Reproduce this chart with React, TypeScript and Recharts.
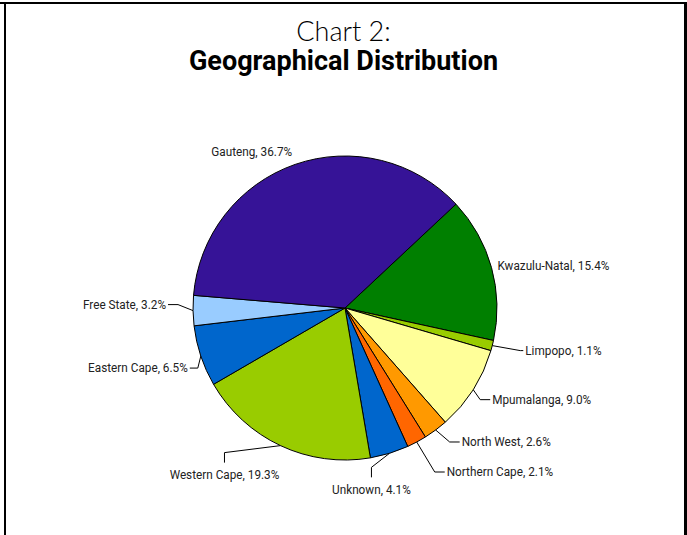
import { PieChart, Pie, Cell } from "recharts";

const regions = [
  "Kwazulu-Natal",
  "Limpopo",
  "Mpumalanga",
  "North West",
  "Northern Cape",
  "Unknown",
  "Western Cape",
  "Eastern Cape",
  "Free State",
  "Gauteng",
];
const shares = [15.4, 1.1, 9.0, 2.6, 2.1, 4.1, 19.3, 6.5, 3.2, 36.7];
const sliceColors = [
  "#007f00",
  "#99cc00",
  "#ffff99",
  "#ff9900",
  "#ff6600",
  "#0066cc",
  "#99cc00",
  "#0066cc",
  "#99ccff",
  "#361397",
];

const data = regions.map((name, i) => ({ name, value: shares[i] }));

// label placement relative to the slice's edge point (Excel-style leaders)
type LabelPos = { mode: "none" | "h" | "v"; ex: number; ey: number; stub: number; anchor: "start" | "middle" | "end" };
const labelLayout: Record<string, LabelPos> = {
  "Kwazulu-Natal": { mode: "none", ex: 6, ey: -2, stub: 0, anchor: "start" },
  Limpopo: { mode: "h", ex: 28, ey: 5, stub: 3, anchor: "start" },
  Mpumalanga: { mode: "h", ex: 7, ey: 10, stub: 10, anchor: "start" },
  "North West": { mode: "h", ex: 14, ey: 12, stub: 10, anchor: "start" },
  "Northern Cape": { mode: "h", ex: 18, ey: 30, stub: 10, anchor: "start" },
  Unknown: { mode: "v", ex: -18, ey: 14, stub: 10, anchor: "middle" },
  "Western Cape": { mode: "v", ex: -56, ey: 7, stub: 10, anchor: "middle" },
  "Eastern Cape": { mode: "h", ex: -3, ey: 12, stub: -8, anchor: "end" },
  "Free State": { mode: "h", ex: -15, ey: -6, stub: -10, anchor: "end" },
  Gauteng: { mode: "none", ex: -3, ey: -13, stub: 0, anchor: "end" },
};

const RADIAN = Math.PI / 180;
const labelFont = "Roboto, 'Liberation Sans', sans-serif";
const labelSize = 12.8;

// narrow-ish label text, squeezed a bit around its anchor point
function LabelText({ x, y, anchor, text }: { x: number; y: number; anchor: "start" | "middle" | "end"; text: string }) {
  return (
    <text
      transform={`translate(${x},${y}) scale(0.92,1)`}
      x={0}
      y={0}
      textAnchor={anchor}
      dominantBaseline="central"
      fontSize={labelSize}
      fontFamily={labelFont}
      fill="#222"
    >
      {text}
    </text>
  );
}

function renderLabel(props: any) {
  const { cx, cy, midAngle, outerRadius, name, value } = props;
  const px = cx + outerRadius * Math.cos(-midAngle * RADIAN);
  const py = cy + outerRadius * Math.sin(-midAngle * RADIAN);
  const lay = labelLayout[name];
  const text = `${name}, ${Number(value).toFixed(1)}%`;
  const ex = px + lay.ex;
  const ey = py + lay.ey;
  if (lay.mode === "none") {
    return <LabelText x={ex} y={ey} anchor={lay.anchor} text={text} />;
  }
  if (lay.mode === "v") {
    const sy = ey + lay.stub;
    return (
      <g>
        <polyline points={`${px},${py} ${ex},${ey} ${ex},${sy}`} fill="none" stroke="#000" strokeWidth={1} />
        <LabelText x={ex} y={sy + 12} anchor="middle" text={text} />
      </g>
    );
  }
  const sx = ex + lay.stub;
  const tx = sx + (lay.stub >= 0 ? 2 : -2);
  return (
    <g>
      <polyline points={`${px},${py} ${ex},${ey} ${sx},${ey}`} fill="none" stroke="#000" strokeWidth={1} />
      <LabelText x={tx} y={ey} anchor={lay.anchor} text={text} />
    </g>
  );
}

export default function App() {
  return (
    <div style={{ position: "absolute", left: 0, top: 0, width: 687, height: 535, background: "#fff", overflow: "hidden" }}>
      {/* frame */}
      <div style={{ position: "absolute", left: 0, top: 2, width: 687, height: 2, background: "#000" }} />
      <div style={{ position: "absolute", left: 4, top: 2, width: 2, height: 533, background: "#000" }} />
      <div style={{ position: "absolute", left: 684, top: 2, width: 3, height: 533, background: "#000" }} />

      <div
        style={{
          position: "absolute",
          left: 0,
          width: 687,
          top: 15,
          textAlign: "center",
          fontFamily: "Lato, 'Liberation Sans', sans-serif",
          fontWeight: 300,
          fontSize: 27,
          color: "#000",
          lineHeight: "32px",
        }}
      >
        Chart 2:
      </div>
      <div
        style={{
          position: "absolute",
          left: 0,
          width: 687,
          top: 45,
          textAlign: "center",
          fontFamily: "Roboto, 'Liberation Sans', sans-serif",
          fontWeight: 700,
          fontSize: 27,
          color: "#000",
          lineHeight: "32px",
        }}
      >
        Geographical Distribution
      </div>

      <div style={{ position: "absolute", left: 0, top: 0 }}>
        <PieChart width={687} height={535} margin={{ top: 0, right: 0, bottom: 0, left: 0 }}>
          <Pie
            data={data}
            dataKey="value"
            nameKey="name"
            cx={345}
            cy={308}
            outerRadius={152}
            startAngle={43.1}
            endAngle={43.1 - 360}
            stroke="#000"
            strokeWidth={1}
            label={renderLabel}
            labelLine={false}
            isAnimationActive={false}
          >
            {data.map((d, i) => (
              <Cell key={d.name} fill={sliceColors[i]} />
            ))}
          </Pie>
        </PieChart>
      </div>
    </div>
  );
}
